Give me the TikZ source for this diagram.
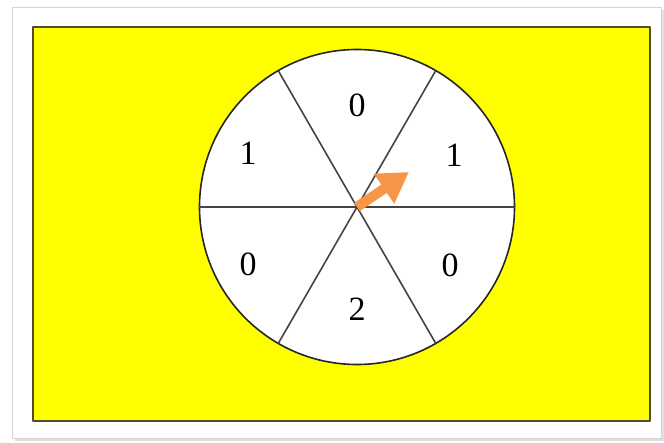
\documentclass[tikz,border=0pt]{standalone}
\usepackage{fontspec}
\setmainfont{Liberation Serif}
\usetikzlibrary{arrows.meta,calc}
\definecolor{spinYellow}{HTML}{FFFF00}
\definecolor{spinEdge}{HTML}{4E4E2A}
\definecolor{spinLine}{HTML}{444444}
\definecolor{spinOrange}{HTML}{F79646}
\definecolor{spinFrame}{HTML}{D4D4D4}
\begin{document}
\begin{tikzpicture}[x=1pt,y=-1pt,>=Latex,line cap=round,line join=round]
\useasboundingbox (0,0) rectangle (664,443);
\path[fill=white] (0,0) rectangle (664,443);
\path[fill=black!12] (15,10) rectangle (664,441);
\path[draw=spinFrame,fill=white,line width=0.8pt] (12,7) rectangle (661,438);
\tikzset{sector/.style={draw=spinLine,line width=1.6pt},digit/.style={font=\fontsize{34}{38}\selectfont,text=black,inner sep=0pt}}
\path[draw=spinEdge,fill=spinYellow,line width=2.5pt] (33,27) rectangle (650,421);
\coordinate (hub) at (357,207);
\draw[draw=black!85,fill=white,line width=1.6pt] (hub) circle (157.5);
\draw[sector] ($(hub)+(180:157.5)$) -- ($(hub)+(0:157.5)$);
\draw[sector] ($(hub)+(120:157.5)$) -- ($(hub)+(-60:157.5)$);
\draw[sector] ($(hub)+(60:157.5)$) -- ($(hub)+(-120:157.5)$);
\node[digit] (top) at (357,105) {0}; \node[digit] (topright) at (454,155) {1};
\node[digit] (topleft) at (248,153) {1}; \node[digit] (botleft) at (248,264) {0};
\node[digit] (botright) at (450,265) {0}; \node[digit] (bottom) at (357,309) {2};
\coordinate (tip) at (409,172);
\draw[spinOrange,line width=10pt,line cap=butt,-{Triangle[length=30pt,width=34pt]}] (hub) -- (tip);
\end{tikzpicture}
\end{document}
